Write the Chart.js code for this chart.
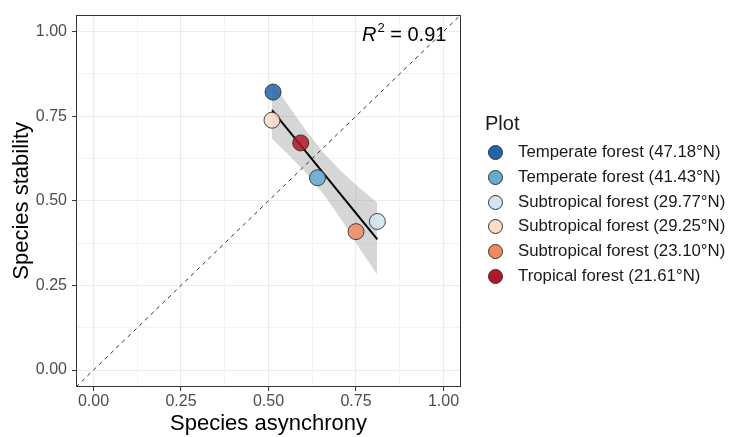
<!DOCTYPE html>
<html lang="en">
<head>
  <meta charset="UTF-8" />
  <title>Species stability vs asynchrony</title>
  <script src="https://cdn.jsdelivr.net/npm/chart.js"></script>
  <style>
    body { margin: 0; background: #fff; font-family: "Liberation Sans", Arial, sans-serif; }
    #wrap { position: relative; width: 729px; height: 437px; }
    #legend { position: absolute; left: 485px; top: 109px; color: #1a1a1a; }
    #legend .title { font-size: 20px; height: 31px; line-height: 28px; }
    #legend .item { position: relative; height: 24.8px; line-height: 24.8px; font-size: 16.8px; padding-left: 33px; white-space: nowrap; }
    #legend .dot { position: absolute; left: 2.5px; top: 5px; width: 13px; height: 13px; border-radius: 50%; border: 1px solid #333; }
  </style>
</head>
<body>
  <div id="wrap">
    <canvas id="graphe" width="729" height="437"></canvas>
    <div id="legend"></div>
  </div>
<script>
  // donnees
  const plots = ['Temperate forest (47.18°N)', 'Temperate forest (41.43°N)', 'Subtropical forest (29.77°N)',
                 'Subtropical forest (29.25°N)', 'Subtropical forest (23.10°N)', 'Tropical forest (21.61°N)'];
  const asynchrony = [0.513, 0.640, 0.811, 0.510, 0.750, 0.592];
  const stability = [0.821, 0.568, 0.439, 0.738, 0.409, 0.671];

  // droite de regression + intervalle de confiance
  const fitX = [0.51, 0.811];
  const fitY = [0.768, 0.386];
  const bandX = [0.51, 0.56, 0.61, 0.66, 0.71, 0.76, 0.81];
  const bandUpper = [0.850, 0.777, 0.703, 0.638, 0.585, 0.538, 0.495];
  const bandLower = [0.683, 0.633, 0.579, 0.516, 0.441, 0.360, 0.282];

  // ligne 1:1
  const oneToOne = [-0.05, 1.05];

  const xTicks = [0, 0.25, 0.5, 0.75, 1];
  const yTicks = [0, 0.25, 0.5, 0.75, 1];
  const rsq = '0.91';

  const colors = ['#2166AC', '#67A9CF', '#D1E5F0', '#FDDBC7', '#EF8A62', '#B2182B'];

  function withAlpha(hex, a) {
    const n = parseInt(hex.slice(1), 16);
    return 'rgba(' + (n >> 16) + ',' + ((n >> 8) & 255) + ',' + (n & 255) + ',' + a + ')';
  }

  // ticks majeurs + mineurs (milieux)
  function allTicks(major) {
    const out = [];
    major.forEach((v, i) => {
      out.push({ value: v });
      if (i < major.length - 1) out.push({ value: (v + major[i + 1]) / 2 });
    });
    return out;
  }

  const pointSets = plots.map((name, i) => ({
    type: 'scatter',
    label: name,
    data: [{ x: asynchrony[i], y: stability[i] }],
    backgroundColor: withAlpha(colors[i], 0.85),
    borderColor: 'rgba(40,40,40,0.85)',
    borderWidth: 1,
    pointRadius: 8,
    pointHoverRadius: 8,
    order: 0
  }));

  const datasets = pointSets.concat([
    {
      type: 'line', label: 'fit',
      data: fitX.map((x, i) => ({ x: x, y: fitY[i] })),
      borderColor: '#000', borderWidth: 2, pointRadius: 0, fill: false, order: 1
    },
    {
      type: 'line', label: '1:1',
      data: oneToOne.map(v => ({ x: v, y: v })),
      borderColor: '#333', borderWidth: 1, borderDash: [4, 4], pointRadius: 0, fill: false, order: 2
    },
    {
      type: 'line', label: 'upper',
      data: bandX.map((x, i) => ({ x: x, y: bandUpper[i] })),
      borderWidth: 0, borderColor: 'rgba(0,0,0,0)', pointRadius: 0,
      backgroundColor: 'rgba(153,153,153,0.4)', fill: '+1', order: 3
    },
    {
      type: 'line', label: 'lower',
      data: bandX.map((x, i) => ({ x: x, y: bandLower[i] })),
      borderWidth: 0, borderColor: 'rgba(0,0,0,0)', pointRadius: 0, fill: false, order: 3
    }
  ]);

  const isMajor = (v, arr) => arr.some(t => Math.abs(t - v) < 1e-9);

  // cadre du panneau + texte R2
  const panelPlugin = {
    id: 'panel',
    afterDraw(chart) {
      const { ctx, chartArea: a } = chart;
      ctx.save();
      ctx.strokeStyle = '#333333';
      ctx.lineWidth = 1;
      ctx.strokeRect(Math.round(a.left) + 0.5, Math.round(a.top) + 0.5,
        Math.round(a.right - a.left) - 1, Math.round(a.bottom - a.top) - 1);
      // R^2
      ctx.fillStyle = '#000';
      ctx.textBaseline = 'alphabetic';
      let x = 362, y = 41;
      ctx.font = 'italic 20px "Liberation Sans", Arial, sans-serif';
      ctx.fillText('R', x, y);
      x += ctx.measureText('R').width + 1;
      ctx.font = '13px "Liberation Sans", Arial, sans-serif';
      ctx.fillText('2', x, y - 9);
      x += ctx.measureText('2').width;
      ctx.font = '20px "Liberation Sans", Arial, sans-serif';
      ctx.fillText(' = ' + rsq, x, y);
      ctx.restore();
    }
  };

  function gridOpts(major) {
    return {
      color: '#EBEBEB',
      lineWidth: c => (c.tick && isMajor(c.tick.value, major)) ? 1.1 : 0.6,
      drawTicks: true,
      tickLength: 4,
      tickWidth: 1,
      tickColor: c => (c.tick && isMajor(c.tick.value, major)) ? '#333333' : 'rgba(0,0,0,0)'
    };
  }

  new Chart(document.getElementById('graphe'), {
    data: { datasets: datasets },
    options: {
      responsive: false,
      animation: false,
      events: [],
      layout: { padding: { top: 12, right: 268, left: 0, bottom: 0 } },
      plugins: { legend: { display: false }, tooltip: { enabled: false } },
      scales: {
        x: {
          type: 'linear', min: -0.05, max: 1.05,
          afterBuildTicks: s => { s.ticks = allTicks(xTicks); },
          afterFit: s => { s.height = 50; },
          border: { display: false },
          grid: gridOpts(xTicks),
          ticks: {
            autoSkip: false, maxRotation: 0, padding: 1, color: '#4D4D4D',
            font: { family: '"Liberation Sans", Arial, sans-serif', size: 16 },
            callback: v => isMajor(v, xTicks) ? v.toFixed(2) : ''
          },
          title: {
            display: true, text: 'Species asynchrony', color: '#000',
            font: { family: '"Liberation Sans", Arial, sans-serif', size: 22 },
            padding: { top: 0, bottom: 0 }
          }
        },
        y: {
          type: 'linear', min: -0.05, max: 1.05,
          afterBuildTicks: s => { s.ticks = allTicks(yTicks); },
          afterFit: s => { s.width = 76; },
          border: { display: false },
          grid: gridOpts(yTicks),
          ticks: {
            autoSkip: false, padding: 5, color: '#4D4D4D',
            font: { family: '"Liberation Sans", Arial, sans-serif', size: 16 },
            callback: v => isMajor(v, yTicks) ? v.toFixed(2) : ''
          },
          title: {
            display: true, text: 'Species stability', color: '#000',
            font: { family: '"Liberation Sans", Arial, sans-serif', size: 22 },
            padding: { top: 9, bottom: 0 }
          }
        }
      }
    },
    plugins: [panelPlugin]
  });

  // legende
  const leg = document.getElementById('legend');
  let html = '<div class="title">Plot</div>';
  plots.forEach((name, i) => {
    html += '<div class="item"><span class="dot" style="background:' + colors[i] + '"></span>' + name + '</div>';
  });
  leg.innerHTML = html;
</script>
</body>
</html>
